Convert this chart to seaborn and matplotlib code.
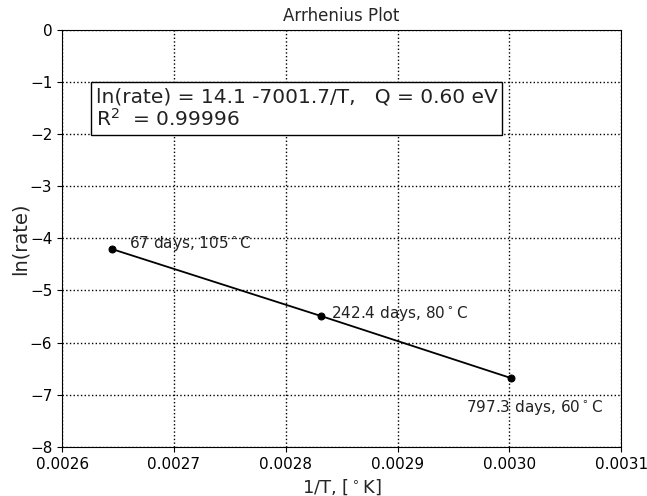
import numpy as np
import pandas as pd
import matplotlib
matplotlib.use('Agg')
import matplotlib.pyplot as plt
import seaborn as sns

# data: lifetime in days at each temperature
days = [67, 242.4, 797.3]
temps_c = [105, 80, 60]
labels = ['67 days, 105$^\\circ$C', '242.4 days, 80$^\\circ$C', '797.3 days, 60$^\\circ$C']

df = pd.DataFrame({'days': days, 'temp': temps_c})
df['invT'] = 1.0 / (df['temp'] + 273.15)
df['lnrate'] = np.log(1.0 / df['days'])

sns.set_style('ticks')
plt.rcParams['font.family'] = ['DejaVu Sans']

fig, ax = plt.subplots(figsize=(6.47, 4.96), dpi=100)
sns.lineplot(x='invT', y='lnrate', data=df, color='black', marker='o',
             markersize=5, linewidth=1.3, markeredgecolor='black', ax=ax)

# point labels
offsets = [(0.000015, 0.1), (0.000009, 0.05), (-0.00004, -0.57)]
for (xv, yv), lab, off in zip(df[['invT', 'lnrate']].values, labels, offsets):
    ax.text(xv + off[0], yv + off[1], lab, fontsize=11, va='center', ha='left', color='#222222')

ax.text(0.00263, -1.1, 'ln(rate) = 14.1 -7001.7/T,   Q = 0.60 eV\nR$^2$  = 0.99996',
        fontsize=14.5, va='top', ha='left', linespacing=1.1, color='#222222',
        bbox=dict(facecolor='white', edgecolor='black', boxstyle='square,pad=0.25'))

ax.set_xlim(0.0026, 0.0031)
ax.set_ylim(-8, 0)
ax.set_xticks([0.0026, 0.0027, 0.0028, 0.0029, 0.0030, 0.0031])
ax.set_xticklabels(['0.0026', '0.0027', '0.0028', '0.0029', '0.0030', '0.0031'])
ax.grid(True, color='black', linestyle=':', linewidth=1)
for s in ax.spines.values():
    s.set_visible(True)
    s.set_color('black')
ax.tick_params(labelsize=11, colors='black')
ax.set_title('Arrhenius Plot', fontsize=12)
ax.set_xlabel('1/T, [$^\\circ$K]', fontsize=13)
ax.set_ylabel('ln(rate)', fontsize=14, labelpad=0)

plt.subplots_adjust(left=0.096, right=0.96, top=0.94, bottom=0.099)
plt.savefig('out.png', dpi=100)
